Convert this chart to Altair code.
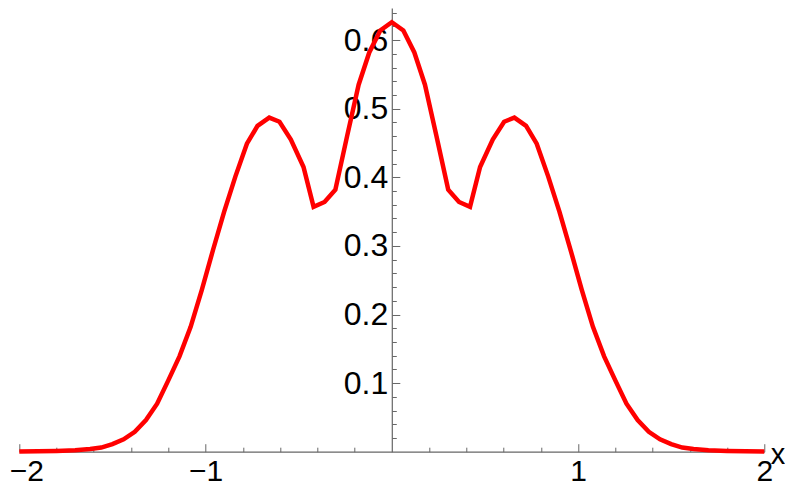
import altair as alt
import pandas as pd

# ---- data ----
x_vals = [-2.00, -1.90, -1.80, -1.70, -1.62, -1.56, -1.50, -1.44, -1.38, -1.32,
          -1.26, -1.20, -1.14, -1.08, -1.02, -0.96, -0.90, -0.84, -0.778, -0.721,
          -0.658, -0.603, -0.542, -0.474, -0.420, -0.361, -0.303, -0.240, -0.178,
          -0.121, -0.062, 0.0, 0.062, 0.121, 0.178, 0.240, 0.303, 0.361, 0.420,
          0.474, 0.542, 0.603, 0.658, 0.721, 0.778, 0.84, 0.90, 0.96, 1.02, 1.08,
          1.14, 1.20, 1.26, 1.32, 1.38, 1.44, 1.50, 1.56, 1.62, 1.70, 1.80, 1.90, 2.00]
y_vals = [0.0002, 0.0005, 0.001, 0.002, 0.004, 0.006, 0.011, 0.018, 0.029, 0.046,
          0.070, 0.104, 0.139, 0.182, 0.236, 0.294, 0.350, 0.401, 0.449, 0.475,
          0.487, 0.481, 0.455, 0.415, 0.357, 0.364, 0.382, 0.460, 0.535,
          0.582, 0.614, 0.626, 0.614, 0.582, 0.535, 0.460, 0.382, 0.364, 0.357,
          0.415, 0.455, 0.481, 0.487, 0.475, 0.449, 0.401, 0.350, 0.294, 0.236, 0.182,
          0.139, 0.104, 0.070, 0.046, 0.029, 0.018, 0.011, 0.006, 0.004, 0.002, 0.001, 0.0005, 0.0002]

x_label_vals = [-2, -1, 1, 2]
x_tick_vals = [-2, -1.8, -1.6, -1.4, -1.2, -1, -0.8, -0.6, -0.4, -0.2,
               0.2, 0.4, 0.6, 0.8, 1, 1.2, 1.4, 1.6, 1.8, 2]
y_label_vals = [0.1, 0.2, 0.3, 0.4, 0.5, 0.6]
y_tick_vals = [0.02, 0.04, 0.06, 0.08, 0.1, 0.12, 0.14, 0.16, 0.18, 0.2,
               0.22, 0.24, 0.26, 0.28, 0.3, 0.32, 0.34, 0.36, 0.38, 0.4,
               0.42, 0.44, 0.46, 0.48, 0.5, 0.52, 0.54, 0.56, 0.58, 0.6,
               0.62, 0.64]

x_domain = [-2, 2]
y_domain = [0, 0.6468]

df = pd.DataFrame({"x": x_vals, "y": y_vals})

W, H = 745, 443.7
FONT = "Liberation Sans"
AX = "#666666"
YOFF = -W / 2  # y axis sits at x = 0 (middle of the domain)

xs = alt.Scale(domain=x_domain, nice=False, zero=False)
ys = alt.Scale(domain=y_domain, nice=False, zero=False)

x_major = {"condition": {"test": "abs(datum.value - round(datum.value)) < 1e-6", "value": 8}, "value": 4.5}
y_major = {"condition": {"test": "abs(datum.value * 10 - round(datum.value * 10)) < 1e-6", "value": 8}, "value": 4.5}
# keep the leftmost label inside the page
x_label_shift = {"condition": {"test": "datum.value <= -1.99", "value": 7}, "value": 0}

curve = alt.Chart(df).mark_line(color="#ff0000", strokeWidth=4.5, strokeJoin="miter").encode(
    x=alt.X("x:Q", scale=xs, axis=alt.Axis(
        orient="bottom", values=x_label_vals, format="d", domain=False, ticks=False, tickSize=0,
        labelPadding=4.5, labelFontSize=30, labelFont=FONT, labelColor="black", grid=False,
        labelFlush=False, labelOverlap=False, labelOffset=x_label_shift,
        title="x", titleX=751, titleY=12, titleAlign="left", titleBaseline="alphabetic",
        titleFontSize=29, titleFont=FONT, titleFontWeight="normal", titleColor="black", titleAngle=0)),
    y=alt.Y("y:Q", scale=ys, title=None, axis=alt.Axis(
        orient="left", offset=YOFF, values=y_label_vals, format=".1f", domain=False, ticks=False,
        tickSize=0, labelPadding=4, labelFontSize=32, labelFont=FONT, labelColor="black", grid=False,
        labelFlush=False, labelOverlap=False)),
)

tick_layer = alt.Chart(df).mark_line(opacity=0).encode(
    x=alt.X("x:Q", scale=xs, title=None, axis=alt.Axis(
        orient="top", offset=-H, values=x_tick_vals, labels=False, domain=True, domainColor=AX,
        domainWidth=1.2, ticks=True, tickColor=AX, tickWidth=1, tickSize=x_major, grid=False)),
    y=alt.Y("y:Q", scale=ys, title=None, axis=alt.Axis(
        orient="right", offset=YOFF, values=y_tick_vals, labels=False, domain=True, domainColor=AX,
        domainWidth=1.2, ticks=True, tickColor=AX, tickWidth=1, tickSize=y_major, grid=False)),
)

chart = alt.layer(tick_layer, curve).resolve_axis(
    x="independent", y="independent"
).properties(
    width=W, height=H,
    autosize=alt.AutoSizeParams(type="none"),
    padding={"left": 11.3, "top": 0, "right": 20.5, "bottom": 35.5},
).configure_view(stroke=None)

chart.save("out.html", embed_options={"renderer": "svg", "actions": False})
